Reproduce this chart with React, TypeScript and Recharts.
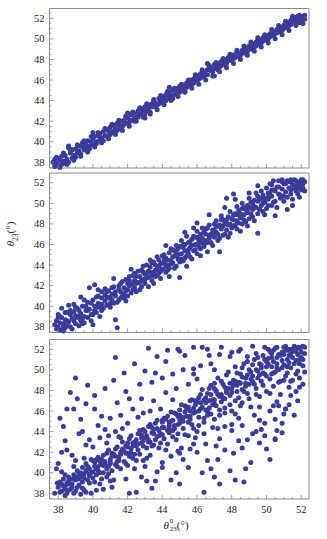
import { Scatter, ScatterChart, XAxis, YAxis } from "recharts"

// frame ticks: majors every 2 degrees, minors every half degree
const xTicks = [
  37.5, 38, 38.5, 39, 39.5, 40, 40.5, 41, 41.5, 42, 42.5, 43, 43.5, 44, 44.5, 45,
  45.5, 46, 46.5, 47, 47.5, 48, 48.5, 49, 49.5, 50, 50.5, 51, 51.5, 52,
]
const yTicks = [...xTicks, 52.5]
const tickLabels = [38, 40, 42, 44, 46, 48, 50, 52]

const xDomain: [number, number] = [37.5, 52.45]
const yDomain: [number, number] = [37.45, 52.95]

// top panel: tight band
const tightPairs: [number, number][] = [
  [37.7, 38.0], [37.8, 37.6], [37.8, 38.3], [37.9, 37.9], [38.0, 38.4], [38.0, 37.7], [38.1, 38.2], [38.2, 37.8], [38.2, 38.6], [38.3, 38.1],
  [38.4, 37.9], [38.4, 38.7], [38.5, 38.3], [38.6, 39.4], [38.6, 38.0], [38.7, 38.9], [38.8, 38.4], [38.8, 39.2], [38.9, 38.7], [39.0, 38.5],
  [39.0, 39.3], [39.1, 38.9], [39.2, 39.6], [39.2, 39.1], [39.3, 38.8], [39.4, 39.5], [39.4, 39.9], [39.5, 39.2], [39.6, 39.7], [39.6, 39.3],
  [39.7, 40.1], [39.8, 39.6], [39.8, 39.3], [39.9, 40.0], [40.0, 40.3], [40.0, 39.7], [40.1, 40.5], [40.2, 40.0], [40.2, 39.8], [40.3, 40.6],
  [40.4, 40.2], [40.4, 40.8], [40.5, 40.4], [40.6, 40.1], [40.6, 41.0], [40.7, 40.6], [40.8, 41.2], [40.8, 40.5], [40.9, 41.0], [41.0, 40.7],
  [41.0, 41.4], [41.1, 41.0], [41.2, 41.6], [41.2, 40.9], [41.3, 41.3], [41.4, 41.8], [41.4, 41.1], [41.5, 41.6], [41.6, 41.3], [41.6, 42.0],
  [41.7, 41.5], [41.8, 42.1], [41.8, 41.7], [41.9, 42.4], [42.0, 41.8], [42.0, 42.3], [42.1, 41.9], [42.2, 42.6], [42.2, 42.1], [42.3, 42.8],
  [42.4, 42.3], [42.4, 42.0], [42.5, 42.7], [42.6, 42.4], [42.6, 43.0], [42.7, 42.6], [42.8, 43.2], [42.8, 42.7], [42.9, 43.0], [43.0, 42.7],
  [43.0, 43.4], [43.1, 43.0], [43.2, 43.6], [43.2, 43.2], [43.3, 42.9], [43.4, 43.7], [43.4, 43.4], [43.5, 43.9], [43.6, 43.4], [43.6, 43.8],
  [43.7, 43.6], [43.8, 44.2], [43.8, 43.7], [43.9, 44.0], [44.0, 44.4], [44.0, 43.8], [44.1, 44.2], [44.2, 44.6], [44.2, 44.0], [44.3, 44.5],
  [44.4, 44.2], [44.4, 44.8], [44.5, 44.5], [44.6, 44.2], [44.6, 45.0], [44.7, 44.6], [44.8, 45.1], [44.8, 44.7], [44.9, 45.2], [45.0, 44.8],
  [45.0, 45.4], [45.1, 45.0], [45.2, 45.5], [45.2, 45.2], [45.3, 44.9], [45.4, 45.7], [45.4, 45.3], [45.5, 45.8], [45.6, 45.5], [45.6, 46.0],
  [45.7, 45.6], [45.8, 46.1], [45.8, 45.7], [45.9, 46.3], [46.0, 45.9], [46.0, 46.4], [46.1, 46.1], [46.2, 46.6], [46.2, 46.2], [46.3, 46.8],
  [46.4, 46.3], [46.4, 46.7], [46.5, 46.5], [46.6, 47.0], [46.6, 46.5], [46.7, 47.3], [46.8, 46.9], [46.8, 47.2], [46.9, 46.8], [47.0, 47.5],
  [47.0, 47.1], [47.1, 47.4], [47.2, 47.0], [47.2, 47.6], [47.3, 47.3], [47.4, 47.8], [47.4, 47.4], [47.5, 47.9], [47.6, 47.5], [47.6, 48.0],
  [47.7, 47.6], [47.8, 48.2], [47.8, 47.9], [47.9, 48.3], [48.0, 47.9], [48.0, 48.4], [48.1, 48.1], [48.2, 48.5], [48.2, 48.2], [48.3, 48.7],
  [48.4, 48.3], [48.4, 48.6], [48.5, 48.4], [48.6, 48.9], [48.6, 48.6], [48.7, 49.0], [48.8, 48.6], [48.8, 49.1], [48.9, 48.8], [49.0, 49.3],
  [49.0, 49.0], [49.1, 49.4], [49.2, 49.0], [49.2, 49.5], [49.3, 49.2], [49.4, 49.7], [49.4, 49.3], [49.5, 49.8], [49.6, 49.5], [49.6, 49.9],
  [49.7, 49.6], [49.8, 50.1], [49.8, 49.8], [49.9, 50.2], [50.0, 49.9], [50.0, 50.3], [50.1, 50.0], [50.2, 50.5], [50.2, 50.2], [50.3, 50.6],
  [50.4, 50.3], [50.4, 50.7], [50.5, 50.5], [50.6, 50.9], [50.6, 50.6], [50.7, 51.0], [50.8, 50.7], [50.8, 51.1], [50.9, 50.8], [51.0, 51.3],
  [51.0, 51.0], [51.1, 51.5], [51.2, 51.1], [51.2, 51.6], [51.3, 51.3], [51.4, 51.8], [51.4, 51.4], [51.5, 51.9], [51.6, 51.6], [51.6, 52.1],
  [51.7, 51.7], [51.8, 52.2], [51.8, 51.9], [51.9, 52.3], [52.0, 52.0], [52.0, 51.8], [52.1, 52.2], [52.2, 51.9], [51.9, 51.6], [51.5, 52.1],
]

// top panel: points on the edges of the band
const tightEdgePairs: [number, number][] = [
  [37.9, 38.5], [38.1, 37.5], [38.3, 38.9], [38.5, 37.8], [38.7, 39.3], [38.9, 38.2], [39.1, 39.7], [39.3, 38.6], [39.5, 40.1], [39.7, 39.0],
  [39.9, 40.5], [40.1, 39.5], [40.3, 40.9], [40.5, 39.9], [40.7, 41.3], [40.9, 40.3], [41.1, 41.7], [41.3, 40.7], [41.5, 42.1], [41.7, 41.1],
  [41.9, 42.5], [42.1, 41.5], [42.3, 42.9], [42.5, 42.0], [42.7, 43.3], [42.9, 42.4], [43.1, 43.7], [43.3, 42.7], [43.5, 44.1], [43.7, 43.1],
  [43.9, 44.5], [44.1, 43.6], [44.3, 44.9], [44.5, 44.0], [44.7, 45.2], [44.9, 44.4], [45.1, 45.6], [45.3, 44.8], [45.5, 46.0], [45.7, 45.2],
  [45.9, 46.5], [46.1, 45.6], [46.3, 47.0], [46.5, 46.0], [46.7, 47.4], [46.9, 46.4], [47.1, 47.7], [47.3, 46.8], [47.5, 48.1], [47.7, 47.2],
  [47.9, 48.5], [48.1, 47.6], [48.3, 48.9], [48.5, 48.0], [48.7, 49.3], [48.9, 48.4], [49.1, 49.7], [49.3, 48.8], [49.5, 50.1], [49.7, 49.2],
  [49.9, 50.4], [50.1, 49.6], [50.3, 50.9], [50.5, 50.0], [50.7, 51.3], [50.9, 50.4], [51.1, 51.7], [51.3, 50.8], [51.5, 52.2], [51.7, 51.3],
  [51.9, 52.0], [52.1, 51.5], [52.2, 52.3], [46.6, 47.6], [44.4, 45.3], [42.0, 42.8], [40.0, 40.9], [38.6, 39.6], [47.0, 46.4], [43.0, 42.3],
]

// middle panel: wider band
const mediumPairs: [number, number][] = [
  [37.8, 38.2], [37.9, 37.8], [37.9, 38.6], [38.0, 38.0], [38.1, 38.4], [38.1, 37.7], [38.2, 39.8], [38.2, 38.9], [38.3, 38.3], [38.4, 37.9],
  [38.4, 38.7], [38.5, 38.1], [38.6, 40.1], [38.6, 38.5], [38.7, 39.2], [38.8, 37.8], [38.8, 38.8], [38.9, 40.2], [38.9, 39.5], [39.0, 38.3],
  [39.1, 38.9], [39.1, 39.8], [39.2, 38.1], [39.3, 39.3], [39.3, 38.6], [39.4, 40.0], [39.5, 39.0], [39.5, 38.4], [39.6, 39.6], [39.7, 40.4],
  [39.7, 38.9], [39.8, 41.8], [39.8, 39.7], [39.9, 39.2], [40.0, 40.6], [40.0, 38.2], [40.1, 42.1], [40.1, 40.0], [40.2, 39.4], [40.3, 41.0],
  [40.3, 40.3], [40.4, 39.0], [40.5, 40.8], [40.5, 41.4], [40.6, 39.8], [40.7, 40.5], [40.7, 41.1], [40.8, 40.1], [40.9, 41.5], [40.9, 40.8],
  [41.0, 39.9], [41.1, 41.2], [41.1, 40.6], [41.2, 41.9], [41.3, 38.7], [41.3, 41.0], [41.4, 40.4], [41.4, 37.9], [41.5, 42.0], [41.6, 41.4],
  [41.6, 40.8], [41.7, 42.4], [41.8, 41.2], [41.8, 41.8], [41.9, 40.5], [42.0, 42.2], [42.0, 41.6], [42.1, 42.9], [42.2, 41.3], [42.2, 42.1],
  [42.3, 43.0], [42.4, 41.8], [42.4, 42.5], [42.5, 41.4], [42.6, 43.4], [42.6, 42.3], [42.7, 42.9], [42.8, 41.9], [42.8, 43.5], [42.9, 42.6],
  [43.0, 43.1], [43.0, 42.2], [43.1, 44.0], [43.2, 43.4], [43.2, 42.8], [43.3, 43.8], [43.4, 42.5], [43.4, 44.2], [43.5, 43.3], [43.6, 44.0],
  [43.6, 42.9], [43.7, 43.6], [43.8, 44.5], [43.8, 43.2], [43.9, 44.1], [44.0, 43.6], [44.0, 44.9], [44.1, 44.3], [44.2, 43.3], [44.2, 44.7],
  [44.3, 44.0], [44.4, 45.2], [44.4, 43.7], [44.5, 44.5], [44.6, 45.5], [44.6, 44.2], [44.7, 44.9], [44.8, 43.9], [44.8, 45.3], [44.9, 44.6],
  [45.0, 45.8], [45.0, 42.8], [45.1, 45.1], [45.2, 44.4], [45.2, 46.0], [45.3, 45.4], [45.4, 43.9], [45.4, 44.9], [45.5, 46.2], [45.6, 45.7],
  [45.6, 44.8], [45.7, 46.5], [45.8, 45.4], [45.8, 47.6], [45.9, 46.0], [46.0, 45.1], [46.0, 46.7], [46.1, 46.2], [46.2, 45.6], [46.2, 47.0],
  [46.3, 46.6], [46.4, 45.8], [46.4, 47.2], [46.5, 46.4], [46.6, 45.3], [46.6, 47.6], [46.7, 48.9], [46.7, 46.9], [46.8, 46.2], [46.9, 47.4],
  [47.0, 46.7], [47.0, 48.0], [47.1, 47.2], [47.2, 46.4], [47.2, 47.8], [47.3, 45.3], [47.4, 47.5], [47.4, 48.4], [47.5, 46.9], [47.6, 48.1],
  [47.7, 50.5], [47.7, 47.4], [47.8, 48.7], [47.8, 47.9], [47.9, 47.1], [48.0, 48.5], [48.1, 50.9], [48.1, 47.8], [48.2, 49.0], [48.3, 48.3],
  [48.3, 47.5], [48.4, 49.3], [48.5, 48.6], [48.6, 48.0], [48.6, 49.5], [48.7, 48.9], [48.8, 48.2], [48.9, 49.8], [48.9, 49.1], [49.0, 48.5],
  [49.1, 50.1], [49.2, 49.4], [49.2, 48.7], [49.3, 50.3], [49.4, 49.6], [49.5, 47.1], [49.5, 51.7], [49.5, 49.0], [49.6, 50.5], [49.7, 49.8],
  [49.8, 49.2], [49.8, 50.8], [49.9, 50.1], [50.0, 49.5], [50.1, 51.0], [50.1, 50.4], [50.2, 51.9], [50.3, 49.8], [50.3, 50.7], [50.4, 51.3],
  [50.5, 48.8], [50.5, 50.2], [50.6, 51.6], [50.7, 50.9], [50.7, 52.2], [50.8, 50.5], [50.9, 51.4], [51.0, 51.9], [51.0, 50.7], [51.1, 51.1],
  [51.2, 49.4], [51.2, 52.2], [51.3, 51.5], [51.4, 50.9], [51.5, 49.8], [51.5, 51.8], [51.6, 52.3], [51.7, 51.2], [51.8, 50.9], [51.8, 52.0],
  [51.9, 51.6], [52.0, 52.2], [52.0, 51.3], [52.1, 51.9], [52.2, 52.1], [51.4, 52.3], [50.9, 52.1], [51.7, 51.7], [52.1, 51.5], [51.1, 52.0],
]

// middle panel: more of the band
const mediumFillPairs: [number, number][] = [
  [38.0, 38.9], [38.3, 37.6], [38.5, 39.4], [38.7, 38.0], [38.9, 38.6], [39.0, 39.9], [39.2, 39.0], [39.4, 38.3], [39.5, 40.6], [39.7, 39.6],
  [39.9, 38.6], [40.0, 39.2], [40.2, 40.9], [40.4, 40.0], [40.5, 39.6], [40.7, 41.7], [40.8, 40.9], [41.0, 40.3], [41.1, 41.8], [41.3, 41.4],
  [41.5, 40.6], [41.6, 42.2], [41.8, 40.8], [41.9, 42.6], [42.0, 41.0], [42.1, 42.0], [42.3, 41.6], [42.4, 43.2], [42.5, 42.2], [42.7, 41.6],
  [42.8, 42.5], [42.9, 43.9], [43.0, 42.6], [43.1, 43.2], [43.2, 41.9], [43.3, 44.5], [43.4, 43.0], [43.5, 42.2], [43.6, 43.5], [43.7, 44.8],
  [43.8, 43.9], [43.9, 42.7], [44.0, 44.2], [44.1, 45.0], [44.2, 43.9], [44.3, 44.5], [44.4, 42.9], [44.5, 45.6], [44.6, 44.8], [44.7, 43.7],
  [44.8, 45.9], [44.9, 45.0], [45.0, 44.3], [45.1, 46.4], [45.2, 45.7], [45.3, 44.7], [45.4, 46.8], [45.5, 45.1], [45.6, 46.3], [45.7, 44.6],
  [45.8, 46.8], [45.9, 45.5], [46.0, 47.3], [46.1, 46.5], [46.2, 44.9], [46.3, 47.6], [46.4, 46.0], [46.5, 47.0], [46.6, 46.2], [46.7, 47.9],
  [46.8, 47.0], [46.9, 45.9], [47.0, 47.3], [47.1, 48.3], [47.2, 47.0], [47.3, 46.6], [47.4, 48.8], [47.5, 47.8], [47.6, 47.0], [47.7, 48.4],
  [47.8, 46.7], [47.9, 49.2], [48.0, 47.6], [48.1, 48.9], [48.2, 47.9], [48.3, 49.7], [48.4, 48.1], [48.5, 47.3], [48.6, 50.0], [48.7, 48.4],
  [48.8, 49.4], [48.9, 47.8], [49.0, 50.5], [49.1, 49.0], [49.2, 50.0], [49.3, 48.3], [49.4, 51.0], [49.5, 50.2], [49.6, 49.4], [49.7, 51.2],
  [49.8, 50.0], [49.9, 48.9], [50.0, 51.5], [50.1, 49.8], [50.2, 50.9], [50.3, 51.8], [50.4, 50.1], [50.5, 51.2], [50.6, 49.6], [50.7, 51.6],
  [50.8, 50.8], [50.9, 52.3], [51.0, 50.2], [51.1, 51.9], [51.2, 50.6], [51.3, 52.1], [51.4, 51.3], [51.5, 50.4], [51.6, 51.5], [51.7, 52.2],
  [51.8, 51.4], [51.9, 50.6], [52.0, 51.8], [52.1, 52.3], [52.2, 51.2], [49.0, 51.0], [48.2, 50.4], [45.3, 47.2], [44.2, 45.9], [42.2, 43.6],
  [41.2, 42.7], [40.3, 41.6], [39.3, 40.9], [38.4, 39.4], [38.1, 39.0], [46.0, 48.1], [47.6, 49.6], [50.4, 52.2], [51.4, 52.1], [52.0, 52.3],
  [38.0, 39.2], [38.3, 38.0], [38.5, 38.6], [38.7, 39.6], [39.0, 39.1], [39.2, 39.6], [39.4, 38.8], [39.6, 40.0], [39.9, 40.3], [40.1, 39.6],
  [40.3, 39.9], [40.5, 40.2], [40.8, 41.4], [41.0, 40.9], [41.2, 40.3], [41.5, 41.7], [41.7, 41.0], [41.9, 41.5], [42.1, 42.5], [42.3, 42.2],
  [42.5, 42.9], [42.7, 42.3], [42.9, 43.3], [43.1, 42.8], [43.3, 43.3], [43.5, 44.3], [43.7, 43.0], [43.9, 43.4], [44.1, 44.7], [44.3, 43.5],
  [44.5, 44.1], [44.7, 45.4], [44.9, 45.6], [45.1, 44.6], [45.3, 46.0], [45.5, 45.5], [45.7, 45.9], [45.9, 46.7], [46.1, 45.8], [46.3, 46.2],
  [46.5, 47.5], [46.7, 46.6], [46.9, 46.9], [47.1, 47.7], [47.3, 47.9], [47.5, 48.4], [47.7, 48.0], [47.9, 48.0], [48.1, 48.4], [48.3, 48.9],
  [48.5, 49.0], [48.7, 49.6], [48.9, 49.4], [49.1, 49.6], [49.3, 49.7], [49.5, 50.7], [49.7, 50.4], [49.9, 50.5], [50.1, 50.6], [50.3, 51.3],
]

// bottom panel: loose cloud
const loosePairs: [number, number][] = [
  [38.0, 38.6], [38.1, 39.1], [38.2, 38.2], [38.3, 39.4], [38.4, 38.7], [38.5, 38.0], [38.5, 39.0], [38.6, 39.6], [38.7, 38.4], [38.8, 38.9],
  [38.9, 39.8], [39.0, 38.2], [39.0, 39.3], [39.1, 40.2], [39.2, 38.8], [39.3, 39.6], [39.4, 40.5], [39.4, 38.5], [39.5, 39.9], [39.6, 40.9],
  [39.7, 39.3], [39.8, 40.4], [39.8, 39.0], [39.9, 40.0], [40.0, 41.2], [40.0, 39.5], [40.1, 40.6], [40.2, 39.8], [40.3, 41.5], [40.3, 40.2],
  [40.4, 38.9], [40.5, 40.8], [40.6, 41.7], [40.6, 40.0], [40.7, 41.1], [40.8, 39.6], [40.9, 40.6], [40.9, 42.2], [41.0, 41.3], [41.1, 40.2],
  [41.2, 41.8], [41.2, 39.3], [41.3, 40.8], [41.4, 42.5], [41.5, 41.5], [41.6, 40.4], [41.6, 42.0], [41.7, 43.0], [41.8, 41.1], [41.9, 42.6],
  [42.0, 40.7], [42.0, 41.9], [42.1, 43.3], [42.2, 42.3], [42.3, 41.4], [42.4, 43.0], [42.4, 40.4], [42.5, 42.6], [42.6, 43.8], [42.7, 41.8],
  [42.8, 42.9], [42.9, 44.2], [42.9, 41.2], [43.0, 43.4], [43.1, 42.4], [43.2, 44.5], [43.3, 43.0], [43.3, 41.7], [43.4, 43.9], [43.5, 42.7],
  [43.6, 44.8], [43.7, 43.5], [43.7, 40.1], [43.8, 44.1], [43.9, 42.9], [44.0, 45.1], [44.0, 43.7], [44.1, 44.4], [44.2, 42.2], [44.3, 45.5],
  [44.4, 43.9], [44.4, 44.9], [44.5, 41.6], [44.6, 44.1], [44.7, 45.8], [44.8, 43.2], [44.9, 44.7], [45.0, 46.1], [45.0, 45.2], [45.1, 42.4],
  [45.2, 44.3], [45.3, 46.5], [45.4, 45.5], [45.5, 43.6], [45.6, 46.0], [45.6, 47.0], [45.7, 44.7], [45.8, 45.8], [45.9, 46.6], [46.0, 44.0],
  [46.1, 47.3], [46.1, 45.4], [46.2, 46.2], [46.3, 48.1], [46.4, 44.9], [46.5, 46.8], [46.6, 47.7], [46.6, 45.6], [46.7, 46.3], [46.8, 48.5],
  [46.9, 47.1], [47.0, 45.2], [47.0, 46.7], [47.1, 48.0], [47.2, 49.2], [47.3, 46.1], [47.4, 47.6], [47.5, 48.6], [47.6, 45.8], [47.6, 47.2],
  [47.7, 49.5], [47.8, 48.2], [47.9, 46.6], [48.0, 47.8], [48.1, 49.0], [48.2, 50.3], [48.2, 45.7], [48.3, 48.5], [48.4, 47.3], [48.5, 49.6],
  [48.6, 46.8], [48.6, 48.1], [48.7, 50.6], [48.8, 49.2], [48.9, 47.7], [49.0, 48.6], [49.0, 50.0], [49.1, 46.4], [49.2, 49.4], [49.3, 51.0],
  [49.4, 48.2], [49.5, 49.9], [49.6, 47.4], [49.6, 50.6], [49.7, 48.9], [49.8, 51.4], [49.9, 49.6], [50.0, 47.9], [50.0, 50.8], [50.1, 52.0],
  [50.2, 49.1], [50.3, 50.3], [50.3, 51.6], [50.4, 48.4], [50.5, 49.8], [50.6, 51.2], [50.6, 52.2], [50.7, 50.0], [50.8, 48.9], [50.9, 51.7],
  [51.0, 50.5], [51.0, 52.2], [51.1, 49.4], [51.2, 51.0], [51.3, 52.0], [51.4, 50.2], [51.4, 51.6], [51.5, 49.0], [51.6, 52.3], [51.7, 50.9],
  [51.7, 51.8], [51.8, 49.9], [51.9, 52.1], [52.0, 51.2], [52.1, 50.4], [52.1, 52.3], [52.2, 51.6], [50.4, 51.9], [49.9, 52.2], [48.9, 51.3],
]

// bottom panel: points close to the diagonal
const looseCorePairs: [number, number][] = [
  [38.2, 38.9], [38.4, 38.4], [38.6, 39.2], [38.8, 38.6], [39.0, 39.6], [39.2, 39.4], [39.3, 40.0], [39.5, 39.5], [39.6, 40.2], [39.8, 39.9],
  [40.0, 40.1], [40.1, 41.0], [40.3, 40.6], [40.4, 40.0], [40.5, 41.3], [40.7, 40.8], [40.8, 40.4], [41.0, 41.0], [41.1, 41.9], [41.3, 41.6],
  [41.4, 41.1], [41.6, 41.8], [41.7, 42.3], [41.9, 41.9], [42.0, 42.5], [42.2, 41.9], [42.3, 42.9], [42.5, 43.2], [42.6, 42.8], [42.8, 43.7],
  [42.9, 43.1], [43.1, 43.6], [43.2, 43.0], [43.4, 44.4], [43.5, 43.8], [43.7, 44.3], [43.8, 43.6], [44.0, 44.4], [44.1, 45.3], [44.3, 44.1],
  [44.4, 44.6], [44.6, 45.1], [44.7, 44.3], [44.9, 45.5], [45.0, 45.6], [45.2, 45.0], [45.3, 45.9], [45.5, 46.4], [45.6, 45.2], [45.8, 46.3],
  [45.9, 47.0], [46.1, 46.0], [46.2, 46.8], [46.4, 47.1], [46.5, 46.1], [46.7, 47.0], [46.8, 47.6], [47.0, 47.1], [47.1, 47.9], [47.3, 47.4],
  [47.4, 46.9], [47.6, 48.3], [47.7, 47.8], [47.9, 48.7], [48.0, 48.2], [48.2, 48.9], [48.3, 47.9], [48.5, 48.7], [48.6, 49.3], [48.8, 48.4],
  [48.9, 49.5], [49.1, 49.8], [49.2, 48.9], [49.4, 50.0], [49.5, 49.2], [49.7, 50.2], [49.8, 49.7], [50.0, 50.3], [50.1, 51.1], [50.3, 49.6],
  [50.4, 50.8], [50.6, 50.2], [50.7, 51.5], [50.9, 50.9], [51.0, 51.5], [51.2, 51.9], [51.3, 50.7], [51.5, 51.2], [51.6, 51.8], [51.8, 52.2],
  [51.9, 51.0], [52.0, 51.7], [52.2, 52.2], [51.1, 52.3], [50.2, 51.8], [49.4, 51.6], [47.0, 48.2], [44.5, 45.0], [42.4, 41.8], [40.2, 41.3],
]

// bottom panel: points far from the diagonal
const looseOutlierPairs: [number, number][] = [
  [39.0, 49.2], [41.8, 49.7], [43.2, 52.1], [45.8, 52.2], [46.3, 52.2], [39.7, 48.5], [40.7, 48.2], [40.1, 47.5], [38.5, 46.2], [38.9, 46.2],
  [39.1, 47.2], [38.3, 44.5], [41.4, 46.8], [41.9, 47.9], [42.7, 48.6], [43.4, 48.8], [44.6, 49.6], [45.0, 51.8], [45.3, 51.4], [45.8, 50.1],
  [45.8, 49.6], [46.7, 51.4], [47.3, 51.5], [48.5, 52.0], [49.2, 52.3], [51.9, 50.6], [51.2, 49.7], [51.9, 48.3], [51.3, 48.3], [50.2, 46.0],
  [50.4, 46.5], [51.1, 46.2], [50.6, 44.1], [48.6, 44.6], [49.4, 44.0], [47.6, 44.5], [48.0, 44.1], [46.9, 44.4], [50.5, 43.3], [38.4, 43.1],
  [38.5, 42.2], [38.0, 40.9], [37.95, 39.0], [37.8, 38.0], [39.9, 38.0], [42.1, 38.0], [42.5, 38.1], [43.1, 39.2], [43.6, 39.2], [44.5, 39.3],
  [45.0, 38.9], [46.4, 38.1], [47.3, 38.9], [48.2, 39.3], [48.7, 39.1], [45.8, 42.8], [46.5, 42.8], [47.1, 42.6], [46.6, 41.2], [47.2, 41.3],
  [48.1, 41.9], [48.9, 43.2], [49.2, 43.8], [50.0, 42.3], [50.2, 41.3], [50.5, 43.2], [49.6, 42.9], [48.0, 44.7], [49.7, 44.2], [51.0, 45.7],
  [50.5, 45.2], [50.7, 46.5], [51.3, 46.6], [51.1, 46.2], [40.5, 45.5], [39.4, 44.0], [40.3, 44.6], [41.0, 45.3], [41.6, 45.6], [42.3, 46.2],
  [42.8, 47.2], [43.5, 47.0], [44.2, 47.8], [43.9, 46.2], [40.9, 43.6], [39.6, 42.7], [39.2, 43.8], [38.8, 41.7], [39.5, 41.4], [41.3, 44.0],
  [42.0, 44.8], [42.6, 45.4], [44.8, 48.2], [45.2, 50.0], [46.0, 49.1], [46.8, 50.6], [47.9, 51.3], [44.2, 50.8], [43.0, 49.9], [40.8, 42.9],
  [38.2, 40.1], [38.9, 40.6], [38.6, 38.3], [39.3, 37.9], [40.6, 38.4], [41.1, 38.6], [41.9, 39.4], [43.0, 40.6], [44.0, 41.0], [45.5, 40.5],
  [46.3, 40.0], [47.9, 40.2], [49.1, 41.0], [48.6, 42.4], [49.9, 44.8], [51.4, 47.5], [51.8, 47.0], [47.3, 43.3], [45.9, 43.4], [49.3, 45.6],
  [50.8, 47.6], [48.4, 51.8], [47.4, 52.2], [44.9, 52.0],
]

// bottom panel: more of the cloud
const looseFillPairs: [number, number][] = [
  [38.1, 38.1], [38.3, 38.7], [38.4, 39.8], [38.6, 38.9], [38.8, 39.4], [38.9, 38.0], [39.1, 38.6], [39.2, 39.9], [39.4, 39.1], [39.5, 38.3],
  [39.7, 40.6], [39.8, 39.7], [39.9, 41.3], [40.1, 39.1], [40.2, 40.4], [40.4, 41.1], [40.5, 39.4], [40.6, 40.7], [40.8, 41.9], [40.9, 39.9],
  [41.0, 40.9], [41.1, 41.6], [41.3, 42.3], [41.4, 40.6], [41.5, 41.2], [41.6, 43.4], [41.8, 42.1], [41.9, 40.9], [42.0, 42.9], [42.1, 41.6],
  [42.2, 43.6], [42.3, 42.6], [42.5, 41.2], [42.6, 42.2], [42.7, 44.1], [42.8, 43.4], [42.9, 42.6], [43.0, 44.0], [43.1, 41.4], [43.2, 43.2],
  [43.3, 44.7], [43.4, 42.6], [43.5, 44.2], [43.6, 43.2], [43.7, 45.1], [43.8, 42.4], [43.9, 43.8], [44.0, 44.9], [44.1, 43.3], [44.2, 45.2],
  [44.3, 42.8], [44.4, 44.3], [44.5, 45.9], [44.6, 43.5], [44.7, 44.6], [44.8, 45.7], [44.9, 43.8], [45.0, 44.8], [45.1, 46.6], [45.2, 45.4],
  [45.3, 43.7], [45.4, 46.2], [45.5, 44.9], [45.6, 45.5], [45.7, 47.1], [45.8, 44.3], [45.9, 45.9], [46.0, 46.9], [46.1, 44.6], [46.2, 47.6],
  [46.3, 46.4], [46.4, 45.3], [46.5, 47.3], [46.6, 46.0], [46.7, 48.2], [46.8, 45.7], [46.9, 46.6], [47.0, 48.7], [47.1, 46.5], [47.2, 47.6],
  [47.3, 45.6], [47.4, 48.9], [47.5, 47.3], [47.6, 46.3], [47.7, 48.0], [47.8, 49.8], [47.9, 47.5], [48.0, 46.0], [48.1, 48.5], [48.2, 47.0],
  [48.3, 49.7], [48.4, 48.8], [48.5, 46.5], [48.6, 50.2], [48.7, 47.9], [48.8, 48.7], [48.9, 50.8], [49.0, 47.2], [49.1, 49.1], [49.2, 50.5],
  [49.3, 48.6], [49.4, 47.6], [49.5, 51.2], [49.6, 49.5], [49.7, 50.5], [49.8, 48.5], [49.9, 51.0], [50.0, 49.4], [50.1, 50.6], [50.2, 47.7],
  [50.3, 51.2], [50.4, 49.7], [50.5, 52.1], [50.6, 50.6], [50.7, 48.8], [50.8, 51.4], [50.9, 50.2], [51.0, 49.0], [51.1, 51.9], [51.2, 50.3],
  [51.3, 51.4], [51.4, 48.9], [51.5, 52.0], [51.6, 50.6], [51.7, 49.6], [51.8, 51.5], [51.9, 49.2], [52.0, 52.2], [52.1, 51.0], [52.2, 49.8],
  [39.3, 45.2], [40.1, 46.2], [38.7, 47.8], [41.2, 49.0], [42.4, 50.6], [43.7, 51.3], [44.0, 49.2], [42.1, 47.2], [40.4, 43.4], [41.7, 44.3],
  [43.3, 46.0], [44.6, 47.1], [46.2, 50.4], [47.0, 50.0], [48.0, 51.7], [44.3, 51.9], [41.3, 51.2], [43.6, 49.7], [46.6, 52.0], [45.5, 48.6],
  [38.2, 42.0], [39.8, 43.2], [40.7, 44.2], [38.1, 45.3], [39.6, 46.7], [42.9, 45.8], [37.9, 40.4], [39.0, 41.2], [40.0, 42.5], [41.5, 43.5],
  [44.0, 40.5], [45.2, 41.3], [46.8, 40.4], [47.6, 42.2], [48.4, 43.1], [49.6, 45.1], [50.9, 44.8], [51.6, 45.6], [46.0, 42.0], [45.0, 41.9],
  [43.4, 38.5], [44.8, 40.0], [47.0, 39.6], [48.8, 40.4], [42.8, 39.6], [41.0, 39.2], [39.6, 38.1], [38.4, 37.8], [40.2, 38.3], [49.6, 46.4],
  [50.6, 46.9], [51.7, 47.9], [52.1, 48.6], [49.9, 43.6], [50.9, 43.9], [48.4, 45.3], [47.2, 44.3], [46.4, 43.8], [45.6, 42.3], [44.9, 42.1],
]

const dotColor = "#3b3b99"
const frameColor = "#8a8a8a"
const serif = "'Liberation Serif', 'DejaVu Serif', serif"

type Side = "left" | "right" | "top" | "bottom"

const FrameTick = (props: any) => {
  const { x, y, payload, side, labelled } = props as {
    x: number
    y: number
    payload: { value: number }
    side: Side
    labelled?: boolean
  }
  const v = Number(payload.value)
  const major = tickLabels.includes(v)
  const len = major ? 4 : 2
  let x2 = x
  let y2 = y
  if (side === "left") x2 = x + len
  if (side === "right") x2 = x - len
  if (side === "bottom") y2 = y - len
  if (side === "top") y2 = y + len

  const textStyle = { fontFamily: serif, fontSize: 10.5 }
  let label = null
  if (labelled && major) {
    label =
      side === "left" ? (
        <text x={x - 5} y={y + 3.5} textAnchor="end" style={textStyle} fill="#222">
          {v}
        </text>
      ) : (
        <text x={x} y={y + 13.5} textAnchor="middle" style={textStyle} fill="#222">
          {v}
        </text>
      )
  }

  return (
    <g>
      <line x1={x} y1={y} x2={x2} y2={y2} stroke={frameColor} strokeWidth={0.8} />
      {label}
    </g>
  )
}

const Dot = (props: any) => <circle cx={props.cx} cy={props.cy} r={2.5} fill={dotColor} />

const toPoints = (pairs: [number, number][]) => pairs.map(([x, y]) => ({ x, y }))

type PanelProps = {
  pairs: [number, number][]
  top: number
  height: number
  marginTop: number
  marginBottom: number
  showXLabels?: boolean
}

// axes are 1px thick so they render; margins are reduced by that 1px
const Panel = ({ pairs, top, height, marginTop, marginBottom, showXLabels }: PanelProps) => {
  const axisLine = { stroke: frameColor, strokeWidth: 1 }
  return (
    <div style={{ position: "absolute", left: 0, top }}>
      <ScatterChart
        width={327}
        height={height}
        margin={{ top: marginTop - 1, bottom: marginBottom - 1, left: 48.5, right: 17 }}
      >
        <XAxis
          xAxisId="b"
          type="number"
          dataKey="x"
          domain={xDomain}
          ticks={xTicks}
          interval={0}
          height={1}
          tickSize={0}
          tickMargin={0}
          tickLine={false}
          axisLine={axisLine}
          tick={(p: any) => <FrameTick {...p} side="bottom" labelled={showXLabels} />}
        />
        <XAxis
          xAxisId="t"
          orientation="top"
          type="number"
          dataKey="x"
          domain={xDomain}
          ticks={xTicks}
          interval={0}
          height={1}
          tickSize={0}
          tickMargin={0}
          tickLine={false}
          axisLine={axisLine}
          tick={(p: any) => <FrameTick {...p} side="top" />}
        />
        <YAxis
          yAxisId="l"
          type="number"
          dataKey="y"
          domain={yDomain}
          ticks={yTicks}
          interval={0}
          width={1}
          tickSize={0}
          tickMargin={0}
          tickLine={false}
          axisLine={axisLine}
          tick={(p: any) => <FrameTick {...p} side="left" labelled />}
        />
        <YAxis
          yAxisId="r"
          orientation="right"
          type="number"
          dataKey="y"
          domain={yDomain}
          ticks={yTicks}
          interval={0}
          width={1}
          tickSize={0}
          tickMargin={0}
          tickLine={false}
          axisLine={axisLine}
          tick={(p: any) => <FrameTick {...p} side="right" />}
        />
        <Scatter
          xAxisId="b"
          yAxisId="l"
          data={toPoints(pairs)}
          shape={Dot}
          isAnimationActive={false}
        />
      </ScatterChart>
    </div>
  )
}

export default function App() {
  return (
    <div
      style={{
        position: "absolute",
        left: 0,
        top: 0,
        width: 327,
        height: 539,
        background: "#fff",
        fontFamily: serif,
        color: "#222",
      }}
    >
      <Panel pairs={[...tightPairs, ...tightEdgePairs]} top={0} height={180} marginTop={8.5} marginBottom={12} />
      <Panel pairs={[...mediumPairs, ...mediumFillPairs]} top={170} height={170} marginTop={3} marginBottom={7.5} />
      <Panel
        pairs={[...loosePairs, ...looseCorePairs, ...looseOutlierPairs, ...looseFillPairs]}
        top={336}
        height={203}
        marginTop={3.5}
        marginBottom={40}
        showXLabels
      />

      <div
        style={{
          position: "absolute",
          left: 12,
          top: 234,
          transform: "translate(-50%, -50%) rotate(-90deg)",
          fontSize: 11,
          whiteSpace: "nowrap",
        }}
      >
        <i>θ</i>
        <sub style={{ fontSize: 7.5 }}>23</sub>(°)
      </div>

      <div
        style={{
          position: "absolute",
          left: 176,
          top: 525,
          transform: "translate(-50%, -50%)",
          fontSize: 11,
          whiteSpace: "nowrap",
          display: "flex",
          alignItems: "center",
        }}
      >
        <i>θ</i>
        <span
          style={{
            display: "inline-flex",
            flexDirection: "column",
            fontSize: 7,
            lineHeight: "8px",
            marginLeft: 1,
          }}
        >
          <span>0</span>
          <span>23</span>
        </span>
        <span>(°)</span>
      </div>
    </div>
  )
}
